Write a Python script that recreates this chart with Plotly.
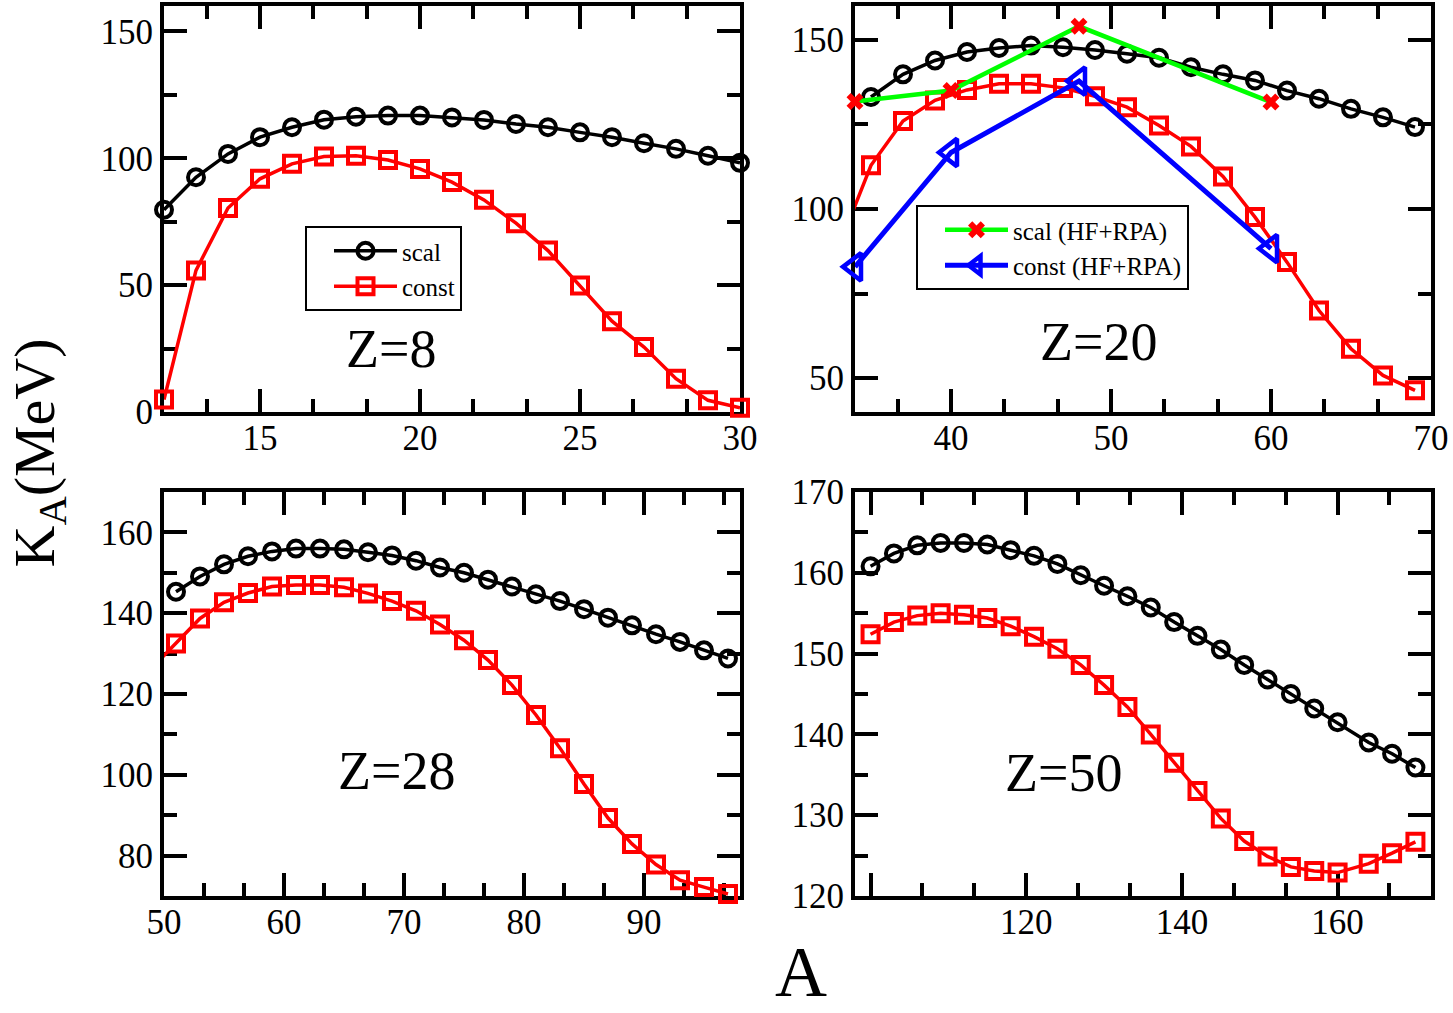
import plotly.graph_objects as go

# ---------------- data ----------------
# Z = 8
z8_A = list(range(12, 31))
z8_scal = [79.7, 92.5, 101.7, 108.3, 112.2, 115.2, 116.4, 116.8, 116.8, 116.1,
           115.1, 113.5, 112.2, 110.2, 108.3, 105.9, 103.7, 101.0, 98.2]
z8_const = [4.9, 55.8, 80.4, 91.9, 97.8, 100.7, 101.0, 99.3, 95.8, 90.6,
            83.6, 74.4, 63.6, 49.9, 35.8, 25.6, 13.1, 4.6, 1.7]

# Z = 20
z20_A = list(range(35, 70, 2))
z20_scal = [133.1, 139.8, 143.9, 146.4, 147.6, 148.3, 147.8, 147.0, 145.9,
            144.7, 141.9, 139.8, 138.0, 135.0, 132.6, 129.6, 127.1, 124.2]
z20_const_A = [33] + list(range(35, 70, 2))
z20_const = [89.0, 112.9, 126.0, 132.1, 135.2, 137.0, 137.0, 135.8, 133.3, 130.1,
             124.7, 118.5, 109.6, 97.6, 84.3, 70.0, 58.7, 50.8, 46.4]
hf_A = [34, 40, 48, 60]
hf_scal = [131.8, 135.0, 154.0, 131.6]
hf_const = [82.9, 116.7, 137.8, 88.3]

# Z = 28
z28_A = list(range(51, 98, 2))
z28_scal = [145.3, 149.1, 152.1, 154.1, 155.3, 156.0, 156.0, 155.8, 155.1, 154.3,
            153.0, 151.3, 150.0, 148.3, 146.6, 144.7, 143.0, 141.0, 138.9, 137.0,
            134.8, 132.9, 130.8, 128.8]
z28_const_A = [49] + list(range(51, 98, 2))
z28_const = [126.5, 132.5, 138.7, 142.7, 145.0, 146.6, 147.0, 147.0, 146.4, 144.9,
             143.0, 140.6, 137.2, 133.3, 128.4, 122.2, 114.8, 106.6, 97.7, 89.3,
             82.9, 77.8, 73.9, 72.2, 70.5]

# Z = 50
z50_A = list(range(100, 161, 3)) + [164, 167, 170]
z50_scal = [160.8, 162.4, 163.4, 163.7, 163.7, 163.5, 162.8, 162.1, 161.1, 159.7,
            158.4, 157.1, 155.7, 153.9, 152.2, 150.5, 148.6, 146.8, 145.0, 143.2,
            141.5, 139.0, 137.6, 135.9]
z50_const = [152.4, 153.9, 154.7, 155.0, 154.8, 154.4, 153.4, 152.1, 150.6, 148.6,
             146.1, 143.4, 140.0, 136.5, 133.0, 129.6, 126.8, 124.9, 123.6, 123.1,
             122.9, 124.0, 125.3, 126.7]

panel_labels = ["Z=8", "Z=20", "Z=28", "Z=50"]

# ---------------- style ----------------
FONT = "Liberation Serif"
BLACK, RED, GREEN, BLUE = "#000000", "#ff0000", "#00ff00", "#0000ff"
MS, MLW, LW = 16, 4, 3.5

xranges = {"x": [12, 30], "x2": [34, 70], "x3": [50, 98], "x4": [98, 172]}

fig = go.Figure()


def series(x, y, xa, ya, color, symbol, name=None, legend=None, lw=LW, ms=MS, mlw=MLW,
           mcolor=None):
    mcolor = mcolor or color
    if legend is not None:
        fig.add_trace(go.Scatter(
            x=x, y=y, xaxis=xa, yaxis=ya, mode="lines+markers", name=name,
            legend=legend, cliponaxis=False,
            line=dict(color=color, width=lw),
            marker=dict(symbol=symbol, size=ms, color=mcolor,
                        line=dict(width=mlw, color=mcolor))))
        return
    lo, hi = xranges[xa]
    fig.add_trace(go.Scatter(x=x, y=y, xaxis=xa, yaxis=ya, mode="lines", showlegend=False,
                             line=dict(color=color, width=lw)))
    xs = [a for a in x if lo <= a <= hi]
    ys = [b for a, b in zip(x, y) if lo <= a <= hi]
    fig.add_trace(go.Scatter(x=xs, y=ys, xaxis=xa, yaxis=ya, mode="markers", showlegend=False,
                             cliponaxis=False,
                             marker=dict(symbol=symbol, size=ms, color=mcolor,
                                         line=dict(width=mlw, color=mcolor))))


# panel 1
series(z8_A, z8_scal, "x", "y", BLACK, "circle-open", name="scal", legend="legend")
series(z8_A, z8_const, "x", "y", RED, "square-open", name="const", legend="legend")
# panel 2
series(z20_A, z20_scal, "x2", "y2", BLACK, "circle-open")
series(z20_const_A, z20_const, "x2", "y2", RED, "square-open")
series(hf_A, hf_scal, "x2", "y2", GREEN, "x", name="scal (HF+RPA)", legend="legend2",
       lw=4.5, ms=15, mlw=0, mcolor=RED)
series(hf_A, hf_const, "x2", "y2", BLUE, "triangle-left-open", name="const (HF+RPA)",
       legend="legend2", lw=5, ms=24, mlw=4.5)
# panel 3
series(z28_A, z28_scal, "x3", "y3", BLACK, "circle-open")
series(z28_const_A, z28_const, "x3", "y3", RED, "square-open")
# panel 4
series(z50_A, z50_scal, "x4", "y4", BLACK, "circle-open")
series(z50_A, z50_const, "x4", "y4", RED, "square-open")


def axis(domain, rng, dtick, tick0, minor_dtick, anchor, is_x, **extra):
    d = dict(domain=domain, range=rng, anchor=anchor, showline=True, linewidth=4,
             linecolor="black", mirror="allticks", ticks="inside", ticklen=23,
             tickwidth=4, tickcolor="black", showgrid=False, zeroline=False,
             layer="below traces", automargin=False, tick0=tick0, dtick=dtick,
             tickfont=dict(family=FONT, size=35, color="black"),
             minor=dict(ticks="inside", ticklen=13, tickwidth=4, tickcolor="black",
                        dtick=minor_dtick, tick0=tick0, showgrid=False))
    if is_x:
        d["ticklabelstandoff"] = -8
    d.update(extra)
    return d


W, H = 1453, 1013
xd_left = [164 / W, 740 / W]
xd_right = [855 / W, 1431 / W]
yd_top = [1 - 412 / H, 1 - 6 / H]
yd_bot = [1 - 896 / H, 1 - 492 / H]

leg_common = dict(xanchor="left", yanchor="top", bordercolor="black", borderwidth=2,
                  bgcolor="white", font=dict(family=FONT, size=25, color="black"),
                  itemwidth=63, indentation=22, tracegroupgap=0)

fig.update_layout(
    width=W, height=H, margin=dict(l=0, r=0, t=0, b=0, autoexpand=False),
    plot_bgcolor="white", paper_bgcolor="white",
    xaxis=axis(xd_left, xranges["x"], 5, 15, 5 / 3, "y", True),
    yaxis=axis(yd_top, [0, 160], 50, 0, 25, "x", False),
    xaxis2=axis(xd_right, xranges["x2"], 10, 40, 10 / 3, "y2", True),
    yaxis2=axis(yd_top, [40, 160], 50, 50, 25, "x2", False),
    xaxis3=axis(xd_left, xranges["x3"], 10, 50, 10 / 3, "y3", True),
    yaxis3=axis(yd_bot, [70, 170], 20, 80, 10, "x3", False),
    xaxis4=axis(xd_right, xranges["x4"], 20, 100, 20 / 3, "y4", True,
                ticklabeloverflow="hide past domain"),
    yaxis4=axis(yd_bot, [120, 170], 10, 120, 5, "x4", False),
    legend=dict(x=305 / W, y=1 - 226 / H, **leg_common),
    legend2=dict(x=916 / W, y=1 - 205 / H, **leg_common),
    showlegend=True,
)

lab_pos = [("x", "y", 19.1, 25), ("x2", "y2", 49.2, 60.6),
           ("x3", "y3", 69.4, 100.9), ("x4", "y4", 124.8, 135.2)]
for txt, (xr, yr, xx, yy) in zip(panel_labels, lab_pos):
    fig.add_annotation(text=txt, xref=xr, yref=yr, x=xx, y=yy, showarrow=False,
                       font=dict(family=FONT, size=54, color="black"))

fig.add_annotation(text="A", xref="paper", yref="paper", x=801 / W, y=0,
                   xanchor="center", yanchor="bottom", borderpad=0,
                   showarrow=False, font=dict(family=FONT, size=72, color="black"))
fig.add_annotation(text="K<sub>A</sub>(MeV)", xref="paper", yref="paper", x=0,
                   y=1 - 453 / H, xanchor="left", borderpad=0, textangle=-90,
                   showarrow=False, font=dict(family=FONT, size=58, color="black"))

fig.write_html("out.html")
